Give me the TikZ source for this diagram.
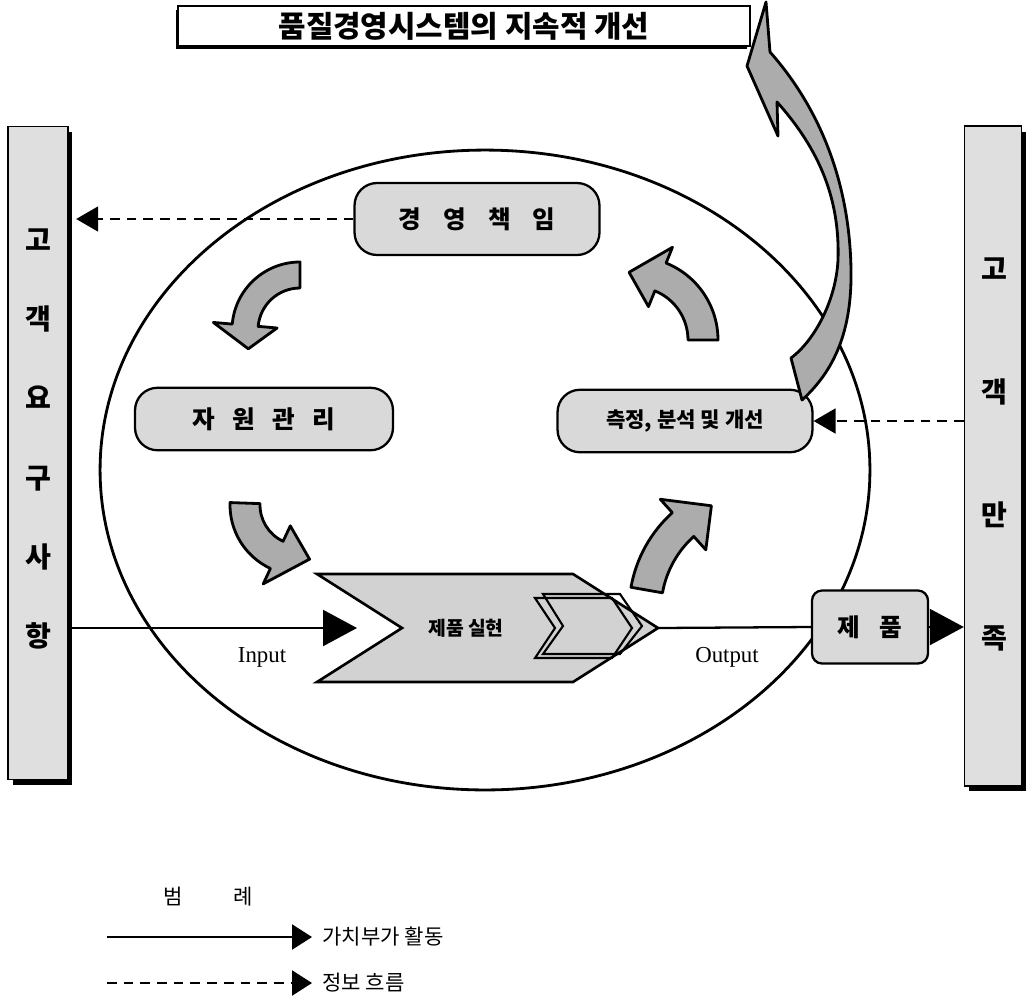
\documentclass[tikz,border=0pt]{standalone}
\usepackage{fontspec}
\setmainfont{Liberation Serif}
\newfontfamily\kfont{Noto Sans CJK KR}
\usepackage{tikz}
\usetikzlibrary{arrows.meta,shadows,positioning}

% curved block arrow: centre, radius, half width, head half width, start, body end, tip angle
\newcommand{\blockcurl}[7]{%
  \filldraw[curlarrow, shift={(#1)}] (#5:#2+#3) arc[start angle=#5, end angle=#6, radius=#2+#3]
    -- (#6:#2+#4) -- (#7:#2) -- (#6:#2-#4) -- (#6:#2-#3)
    arc[start angle=#6, end angle=#5, radius=#2-#3] -- cycle;}

\tikzset{
  procbox/.style={draw, line width=1.3pt, rounded corners=0.45cm, fill=gray!30,
    minimum width=5.1cm, minimum height=1.25cm, font=\kfont\bfseries\fontsize{14}{16}\selectfont},
  prodbox/.style={draw, line width=1.3pt, rounded corners=0.2cm, fill=gray!30,
    minimum width=2.32cm, minimum height=1.46cm, font=\kfont\bfseries\fontsize{14}{16}\selectfont},
  custbar/.style={draw, line width=0.8pt, fill=gray!25, minimum width=1.2cm,
    drop shadow={shadow xshift=0.09cm, shadow yshift=-0.11cm, fill=black, opacity=1}},
  titlebox/.style={draw, line width=1pt, fill=white, minimum width=11.44cm, minimum height=0.72cm,
    font=\kfont\bfseries\fontsize{17}{19}\selectfont,
    drop shadow={shadow xshift=-0.05cm, shadow yshift=-0.07cm, fill=black, opacity=1}},
  curlarrow/.style={fill=gray!65, draw=black, line width=1.6pt, line join=round},
  valueflow/.style={line width=1.3pt, -{Triangle[length=0.68cm, width=0.72cm]}},
  infoflow/.style={line width=1.1pt, dash pattern=on 5.5pt off 4pt, -{Triangle[length=0.44cm, width=0.5cm]}},
  legendline/.style={line width=1.3pt, -{Triangle[length=0.4cm, width=0.5cm]}},
  legendtext/.style={font=\kfont\fontsize{12}{14}\selectfont, inner sep=0.2cm},
  flowlabel/.style={font=\fontsize{13}{15}\selectfont},
}

\begin{document}
\begin{tikzpicture}[x=0.02cm, y=-0.02cm]
  \useasboundingbox (0,0) rectangle (1031,1002);

  % system boundary
  \draw[line width=1.6pt] (485,470) ellipse [x radius=7.7cm, y radius=6.4cm];

  % customer bars
  \node[custbar, minimum height=13.06cm] (lbar) at (38,453) {};
  \node[custbar, minimum height=13.2cm, minimum width=1.14cm] (rbar) at (993,456) {};
  \node[font=\kfont\bfseries\fontsize{16}{45}\selectfont, align=center] at (38,439) {고\\객\\요\\구\\사\\항};
  \node[font=\kfont\bfseries\fontsize{16}{70}\selectfont, align=center] at (994,454) {고\\객\\만\\족};

  % title
  \node[titlebox] (title) at (464,26) {품질경영시스템의 지속적 개선};

  % processes
  \node[procbox, minimum width=4.9cm, minimum height=1.44cm] (mgmt) at (477,219)
    {경\hspace{0.9em}영\hspace{0.9em}책\hspace{0.9em}임};
  \node[procbox, minimum width=5.16cm] (res) at (264,419)
    {자\hspace{0.7em}원\hspace{0.7em}관\hspace{0.7em}리};
  \node[procbox, font=\kfont\bfseries\fontsize{12}{14}\selectfont] (meas) at (685,421)
    {측정, 분석 및 개선};

  % cycle arrows
  \blockcurl{300,330}{55}{13}{32}{270}{185}{160}
  \blockcurl{300,505}{55}{15}{32}{182}{115}{80}
  \blockcurl{760,610}{115}{16}{34}{190}{228}{245}
  \blockcurl{635,340}{68}{15}{32}{360}{292}{265}

  % product realization
  \coordinate (tip) at (658,628);
  \coordinate (notch) at (402,628);
  \coordinate (inEnd) at (357,628);
  \filldraw[fill=gray!35, line width=1.5pt, line join=miter]
    (317,574) -- (573,574) -- (tip) -- (573,682) -- (317,682) -- (notch) -- cycle;
  \draw[line width=1.2pt] (535,598) -- (612,598) -- (632,628) -- (612,658) -- (535,658) -- (555,628) -- cycle;
  \draw[line width=1.2pt] (543,594) -- (620,594) -- (642,626) -- (620,654) -- (543,654) -- (563,626) -- cycle;
  \node[font=\kfont\bfseries\fontsize{11}{13}\selectfont] (real) at (466,628) {제품 실현};

  \node[prodbox] (prod) at (870,627) {제\hspace{0.8em}품};

  % continual improvement
  \filldraw[curlarrow]
    (802,400) .. controls (835,370) and (852,330) .. (851,270)
    .. controls (850,200) and (830,120) .. (770,52) -- (766,2) -- (747,66) -- (778,136) -- (777,102)
    .. controls (820,150) and (840,200) .. (838,260)
    .. controls (836,300) and (815,340) .. (791,358) -- cycle;

  % flows
  \draw[valueflow] (lbar.east |- inEnd) -- (inEnd);
  \node[flowlabel] at (262,657) {Input};
  \draw[line width=1.3pt] (tip) -- (prod.west);
  \node[flowlabel] at (727,657) {Output};
  \draw[valueflow] (prod.east) -- (prod.east -| rbar.west);
  \draw[infoflow, shorten >=0.15cm] (mgmt.west) -- (mgmt.west -| lbar.east);
  \draw[infoflow] (meas.east -| rbar.west) -- (meas.east);

  % legend
  \node[font=\kfont\fontsize{12}{14}\selectfont] (legend) at (208,897) {범\hspace{2.4em}례};
  \coordinate (va) at (107,937);
  \coordinate (info) at (107,983);
  \node[legendtext, anchor=west] (vaText) at (312,937) {가치부가 활동};
  \node[legendtext, anchor=west] (infoText) at (312,983) {정보 흐름};
  \draw[legendline] (va) -- (vaText.west);
  \draw[legendline, dash pattern=on 5.5pt off 4pt] (info) -- (infoText.west);
\end{tikzpicture}
\end{document}
